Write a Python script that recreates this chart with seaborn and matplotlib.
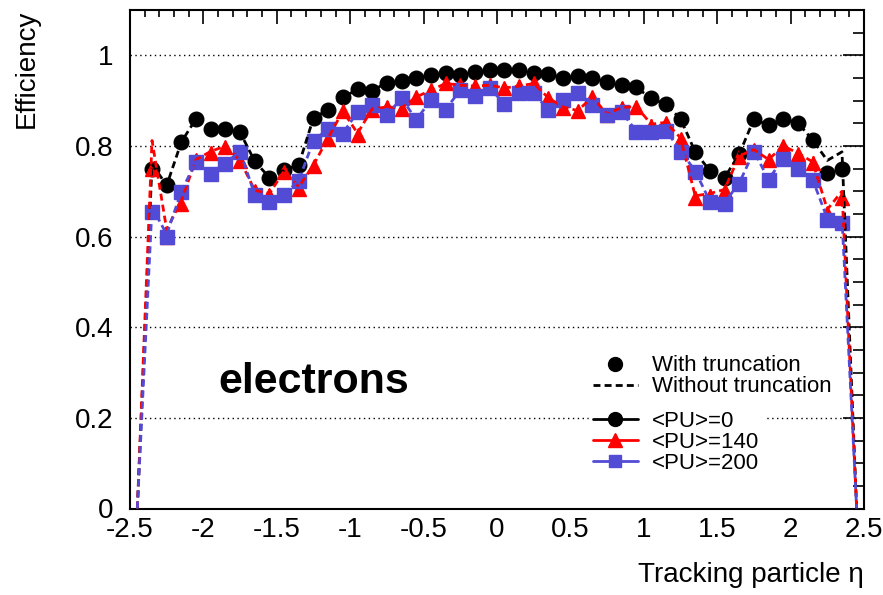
import numpy as np
import pandas as pd
import seaborn as sns
import matplotlib.pyplot as plt
from matplotlib.lines import Line2D
from matplotlib.ticker import MultipleLocator, FuncFormatter

# bin centres in tracking particle eta
eta = [-2.45, -2.35, -2.25, -2.15, -2.05, -1.95, -1.85, -1.75, -1.65, -1.55,
       -1.45, -1.35, -1.25, -1.15, -1.05, -0.95, -0.85, -0.75, -0.65, -0.55,
       -0.45, -0.35, -0.25, -0.15, -0.05, 0.05, 0.15, 0.25, 0.35, 0.45,
       0.55, 0.65, 0.75, 0.85, 0.95, 1.05, 1.15, 1.25, 1.35, 1.45,
       1.55, 1.65, 1.75, 1.85, 1.95, 2.05, 2.15, 2.25, 2.35, 2.45]

nan = np.nan

# with truncation (markers)
eff_pu0 = [nan, 0.750, 0.713, 0.809, 0.860, 0.838, 0.838, 0.830, 0.766, 0.730,
           0.746, 0.759, 0.862, 0.880, 0.907, 0.925, 0.922, 0.940, 0.943, 0.950,
           0.956, 0.960, 0.956, 0.963, 0.968, 0.968, 0.967, 0.961, 0.958, 0.951,
           0.954, 0.950, 0.941, 0.934, 0.929, 0.905, 0.892, 0.860, 0.787, 0.745,
           0.730, 0.782, 0.859, 0.846, 0.860, 0.851, 0.813, 0.740, 0.750, nan]
eff_pu140 = [nan, 0.750, 0.600, 0.673, 0.768, 0.785, 0.798, 0.766, 0.700, 0.691,
             0.743, 0.706, 0.755, 0.816, 0.877, 0.824, 0.880, 0.885, 0.882, 0.908,
             0.923, 0.938, 0.934, 0.932, 0.934, 0.927, 0.932, 0.938, 0.905, 0.884,
             0.877, 0.908, 0.868, 0.884, 0.886, 0.845, 0.850, 0.815, 0.686, 0.690,
             0.700, 0.775, 0.790, 0.768, 0.800, 0.782, 0.763, 0.651, 0.686, nan]
eff_pu200 = [nan, 0.654, 0.599, 0.699, 0.765, 0.739, 0.761, 0.787, 0.691, 0.676,
             0.691, 0.722, 0.811, 0.838, 0.827, 0.875, 0.890, 0.868, 0.905, 0.857,
             0.901, 0.880, 0.923, 0.910, 0.927, 0.893, 0.916, 0.916, 0.879, 0.901,
             0.916, 0.890, 0.868, 0.875, 0.831, 0.831, 0.834, 0.787, 0.743, 0.676,
             0.673, 0.717, 0.786, 0.724, 0.772, 0.750, 0.724, 0.636, 0.629, nan]

# without truncation (dashed lines)
eff_pu0_nt = [0.0, 0.760, 0.713, 0.809, 0.860, 0.838, 0.838, 0.830, 0.766, 0.730,
              0.746, 0.759, 0.862, 0.880, 0.907, 0.925, 0.922, 0.940, 0.943, 0.950,
              0.956, 0.960, 0.956, 0.963, 0.968, 0.968, 0.967, 0.961, 0.958, 0.951,
              0.954, 0.950, 0.941, 0.934, 0.929, 0.905, 0.892, 0.860, 0.787, 0.745,
              0.730, 0.782, 0.859, 0.846, 0.860, 0.851, 0.813, 0.768, 0.787, 0.0]
eff_pu140_nt = [0.0, 0.812, 0.615, 0.680, 0.770, 0.788, 0.800, 0.768, 0.702, 0.695,
                0.745, 0.710, 0.758, 0.818, 0.877, 0.828, 0.882, 0.886, 0.884, 0.908,
                0.923, 0.938, 0.934, 0.932, 0.934, 0.928, 0.932, 0.938, 0.906, 0.886,
                0.878, 0.908, 0.870, 0.885, 0.887, 0.848, 0.852, 0.818, 0.690, 0.695,
                0.704, 0.778, 0.792, 0.770, 0.800, 0.784, 0.765, 0.660, 0.700, 0.0]
eff_pu200_nt = [0.0, 0.665, 0.605, 0.700, 0.766, 0.740, 0.762, 0.788, 0.692, 0.678,
                0.692, 0.724, 0.812, 0.838, 0.828, 0.875, 0.890, 0.869, 0.905, 0.858,
                0.901, 0.881, 0.923, 0.911, 0.927, 0.894, 0.916, 0.916, 0.880, 0.901,
                0.916, 0.891, 0.869, 0.875, 0.832, 0.832, 0.835, 0.789, 0.745, 0.678,
                0.675, 0.718, 0.788, 0.726, 0.773, 0.752, 0.726, 0.640, 0.640, 0.0]

pu_labels = ["<PU>=0", "<PU>=140", "<PU>=200"]
colors = ["black", "#ff0000", "#524bd6"]
markers = ["o", "^", "s"]
msizes = [10.5, 10, 9.5]

sns.set_style("white")
plt.rcParams["font.family"] = ["Liberation Sans", "DejaVu Sans"]
plt.rcParams["axes.unicode_minus"] = False
plt.rcParams["text.color"] = "black"
plt.rcParams["axes.labelcolor"] = "black"

fig = plt.figure(figsize=(8.83, 5.95), dpi=100)
ax = fig.add_axes([130 / 883, (595 - 508.5) / 595, (864 - 130) / 883, 498.5 / 595])

df_nt = pd.concat([
    pd.DataFrame({"eta": eta, "eff": vals, "pu": lab})
    for vals, lab in zip([eff_pu0_nt, eff_pu140_nt, eff_pu200_nt], pu_labels)
])
sns.lineplot(data=df_nt, x="eta", y="eff", hue="pu", palette=dict(zip(pu_labels, colors)),
             linestyle=(0, (2.5, 1.5)), linewidth=2, legend=False, ax=ax,
             estimator=None, sort=False, zorder=4)

for vals, col, mk, ms in zip([eff_pu0, eff_pu140, eff_pu200], colors, markers, msizes):
    ax.errorbar(eta, vals, yerr=0.014, fmt=mk, color=col, mec=col, ms=ms,
                elinewidth=1.8, capsize=0, zorder=3)

ax.set_xlim(-2.5, 2.5)
ax.set_ylim(0, 1.1)
ax.xaxis.set_major_locator(MultipleLocator(0.5))
ax.xaxis.set_minor_locator(MultipleLocator(0.1))
ax.yaxis.set_major_locator(MultipleLocator(0.2))
ax.yaxis.set_minor_locator(MultipleLocator(0.05))
fmt = FuncFormatter(lambda v, p: f"{v:g}")
ax.xaxis.set_major_formatter(fmt)
ax.yaxis.set_major_formatter(fmt)

ax.yaxis.grid(True, which="major", color="black", linestyle=(0, (1, 2.5)), linewidth=1)
ax.set_axisbelow(True)
for sp in ax.spines.values():
    sp.set_linewidth(1.5)
    sp.set_color("black")

ax.tick_params(axis="both", which="both", direction="in", top=True, right=True,
               width=1.2, colors="black", labelsize=20)
ax.tick_params(axis="y", which="major", length=15, pad=12)
ax.tick_params(axis="y", which="minor", length=8)
ax.tick_params(axis="x", which="major", length=10, pad=6)
ax.tick_params(axis="x", which="minor", length=5)

ax.set_xlabel("Tracking particle \u03b7", loc="right", fontsize=20, labelpad=14)
ax.set_ylabel("Efficiency", loc="top", fontsize=20, labelpad=25)

ax.text(-1.9, 0.255, "electrons", fontsize=31, fontweight="bold",
        color="black", va="baseline", ha="left")

leg_kw = dict(loc="upper left", fontsize=16, frameon=True, facecolor="white",
              edgecolor="white", framealpha=1, fancybox=False, borderaxespad=0,
              borderpad=0.2, handlelength=2.0, handletextpad=0.65, labelspacing=0.0)

trunc_handles = [
    Line2D([], [], color="black", marker="o", ls="none", ms=10),
    Line2D([], [], color="black", ls=(0, (2.5, 1.5)), lw=2),
]
leg1 = ax.legend(trunc_handles, ["With truncation", "Without truncation"],
                 bbox_to_anchor=(0.625, 0.316), **leg_kw)
leg1.set_zorder(1)
ax.add_artist(leg1)

pu_handles = [
    Line2D([], [], color=col, marker=mk, ls="-", lw=2, ms=ms - 0.5)
    for col, mk, ms in zip(colors, markers, msizes)
]
leg2 = ax.legend(pu_handles, pu_labels, bbox_to_anchor=(0.625, 0.204), **leg_kw)
leg2.set_zorder(1)

fig.savefig("out.png", dpi=100)
